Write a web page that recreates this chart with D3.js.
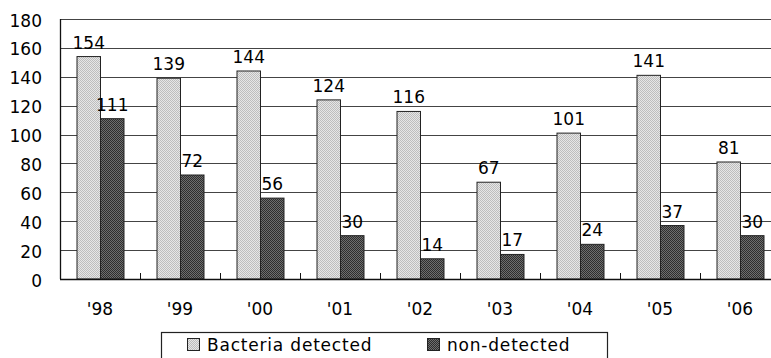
<!DOCTYPE html>
<html>
<head>
<meta charset="utf-8">
<title>Bacteria detected</title>
<script src="https://cdn.jsdelivr.net/npm/d3@7/dist/d3.min.js"></script>
<style>
  body { margin: 0; background: #fff; overflow: hidden; }
  text { font-family: "DejaVu Sans", sans-serif; font-size: 17px; fill: #000; }
</style>
</head>
<body>
<script>
var years = ["'98", "'99", "'00", "'01", "'02", "'03", "'04", "'05", "'06"];
var detected = [154, 139, 144, 124, 116, 67, 101, 141, 81];
var nonDetected = [111, 72, 56, 30, 14, 17, 24, 37, 30];
var seriesNames = ["Bacteria detected", "non-detected"];
var yTicks = [0, 20, 40, 60, 80, 100, 120, 140, 160, 180];

var width = 771, height = 358;
var plotLeft = 60, plotRight = 780, plotTop = 19, plotBottom = 279;

var svg = d3.select('body').append('svg').attr('width', width).attr('height', height);

// dithered fills like the scanned original
var defs = svg.append('defs');
function dither(id, c1, c2) {
    var p = defs.append('pattern').attr('id', id).attr('width', 2).attr('height', 2)
        .attr('patternUnits', 'userSpaceOnUse');
    p.append('rect').attr('width', 2).attr('height', 2).attr('fill', c1);
    p.append('rect').attr('width', 1).attr('height', 1).attr('fill', c2);
    p.append('rect').attr('x', 1).attr('y', 1).attr('width', 1).attr('height', 1).attr('fill', c2);
}
dither('light', '#e6e6e6', '#bdbdbd');
dither('dark', '#6e6e6e', '#2e2e2e');
var fills = ['url(#light)', 'url(#dark)'];

var x0 = d3.scaleBand().domain(years).range([plotLeft, plotRight]);
var x1 = d3.scaleBand().domain(seriesNames).range([17, 64]);
var y = d3.scaleLinear().domain([0, 180]).range([plotBottom, plotTop]);

// gridlines
svg.selectAll('line.grid').data(yTicks.slice(1)).enter().append('line')
    .attr('x1', plotLeft).attr('x2', plotRight)
    .attr('y1', function (d) { return Math.round(y(d)) + 0.5; })
    .attr('y2', function (d) { return Math.round(y(d)) + 0.5; })
    .attr('stroke', '#444').attr('stroke-width', 1.2);

// y labels
svg.selectAll('text.ytick').data(yTicks).enter().append('text')
    .attr('x', 42).attr('y', function (d) { return y(d) + 7.5; })
    .attr('text-anchor', 'end')
    .text(function (d) { return d; });

// bars
var rows = years.map(function (yr, i) {
    return [{s: 0, v: detected[i]}, {s: 1, v: nonDetected[i]}];
});
var g = svg.selectAll('g.cat').data(rows).enter().append('g')
    .attr('transform', function (d, i) { return 'translate(' + x0(years[i]) + ',0)'; });
g.selectAll('rect').data(function (d) { return d; }).enter().append('rect')
    .attr('x', function (d) { return x1(seriesNames[d.s]); })
    .attr('y', function (d) { return y(d.v); })
    .attr('width', x1.bandwidth())
    .attr('height', function (d) { return y(0) - y(d.v); })
    .attr('fill', function (d) { return fills[d.s]; })
    .attr('stroke', '#222').attr('stroke-width', 1);
g.selectAll('text').data(function (d) { return d; }).enter().append('text')
    .attr('x', function (d) { return x1(seriesNames[d.s]) + x1.bandwidth() / 2; })
    .attr('y', function (d) { return y(d.v) - 8; })
    .attr('text-anchor', 'middle')
    .text(function (d) { return d.v; });

// axes
svg.append('line').attr('x1', plotLeft + 0.5).attr('x2', plotLeft + 0.5).attr('y1', plotTop).attr('y2', plotBottom)
    .attr('stroke', '#111').attr('stroke-width', 1.3);
svg.append('line').attr('x1', plotLeft).attr('x2', plotRight).attr('y1', plotBottom + 0.5).attr('y2', plotBottom + 0.5)
    .attr('stroke', '#111').attr('stroke-width', 1.3);
svg.selectAll('line.xtick').data(years.slice(1)).enter().append('line')
    .attr('x1', function (d) { return x0(d) + 0.5; })
    .attr('x2', function (d) { return x0(d) + 0.5; })
    .attr('y1', plotBottom - 6).attr('y2', plotBottom)
    .attr('stroke', '#111');

// x labels
svg.selectAll('text.xlab').data(years).enter().append('text')
    .attr('x', function (d) { return x0(d) + x0.bandwidth() / 2; })
    .attr('y', 315)
    .attr('text-anchor', 'middle')
    .text(function (d) { return d; });

// legend
svg.append('rect').attr('x', 161.5).attr('y', 332.5).attr('width', 446).attr('height', 40)
    .attr('fill', 'none').attr('stroke', '#222').attr('stroke-width', 1.2);
var legX = [187, 427];
var lg = svg.selectAll('g.leg').data(seriesNames).enter().append('g')
    .attr('transform', function (d, i) { return 'translate(' + legX[i] + ',338)'; });
lg.append('rect').attr('x', 0.5).attr('y', 0.5).attr('width', 12).attr('height', 12)
    .attr('fill', function (d, i) { return fills[i]; })
    .attr('stroke', '#222');
lg.append('text').attr('x', 20).attr('y', 13).attr('letter-spacing', 0.8)
    .text(function (d) { return d; });
</script>
</body>
</html>
